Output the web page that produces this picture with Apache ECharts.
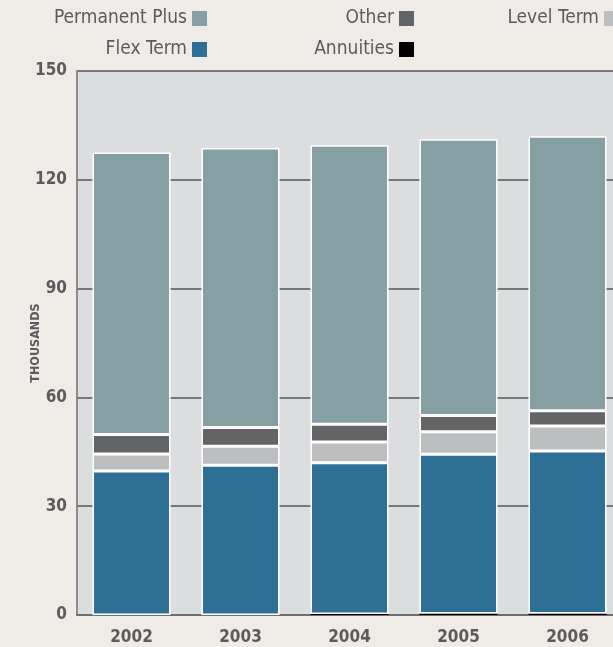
<!DOCTYPE html>
<html>
<head>
<meta charset="utf-8">
<script src="https://cdn.jsdelivr.net/npm/echarts@6/dist/echarts.min.js"></script>
<style>
  html, body { margin: 0; padding: 0; background: #efece8; }
  #chart { width: 613px; height: 647px; }
</style>
</head>
<body>
<div id="chart"></div>
<script>
// values in thousands
const years = ['2002', '2003', '2004', '2005', '2006'];
const annuities = [0, 0, 0.3, 0.4, 0.4];
const flexTerm = [39.7, 41.3, 41.7, 43.9, 44.8];
const levelTerm = [4.7, 5.2, 5.7, 6.2, 6.9];
const other = [5.4, 5.2, 4.9, 4.5, 4.2];
const permanentPlus = [77.7, 77.1, 76.9, 76.2, 75.7];

const FONT = "'DejaVu Sans Condensed', 'Liberation Sans Narrow', sans-serif";
const TXT = '#5b5b5d';

const chart = echarts.init(document.getElementById('chart'));

function legendAt(name, right, top) {
  return {
    data: [name],
    right: right,
    top: top,
    padding: 0,
    align: 'right',
    icon: 'rect',
    itemWidth: 15,
    itemHeight: 15,
    selectedMode: false,
    itemStyle: { borderWidth: 0 },
    textStyle: { color: TXT, fontFamily: FONT, fontSize: 19, lineHeight: 16 }
  };
}

function seg(name, data, color, border) {
  return {
    name: name,
    type: 'bar',
    stack: 'total',
    data: data,
    barCategoryGap: '28.4%',
    itemStyle: { color: color, borderColor: '#ffffff', borderWidth: border }
  };
}

const option = {
  backgroundColor: '#efece8',
  animation: false,
  legend: [
    legendAt('Permanent Plus', 406, 9),
    legendAt('Other', 199, 9),
    legendAt('Level Term', -6, 9),
    legendAt('Flex Term', 406, 40),
    legendAt('Annuities', 199, 40)
  ],
  grid: {
    left: 77,
    top: 71,
    right: -9,
    bottom: 32,
    outerBoundsMode: 'none',
    containLabel: false,
    show: true,
    backgroundColor: '#dcdddf',
    borderColor: '#6d6e70',
    borderWidth: 1.5
  },
  xAxis: {
    type: 'category',
    data: years,
    axisTick: { show: false },
    axisLine: { lineStyle: { color: '#6d6e70', width: 2 } },
    axisLabel: { color: TXT, fontFamily: FONT, fontWeight: 'bold', fontSize: 17, margin: 14 }
  },
  yAxis: {
    type: 'value',
    min: 0,
    max: 150,
    interval: 30,
    name: 'THOUSANDS',
    nameLocation: 'middle',
    nameRotate: 90,
    nameGap: 35,
    nameMoveOverlap: false,
    nameTextStyle: { color: TXT, fontFamily: FONT, fontWeight: 'bold', fontSize: 12.5 },
    axisLine: { show: false },
    axisTick: { show: false },
    axisLabel: { color: TXT, fontFamily: FONT, fontWeight: 'bold', fontSize: 17, margin: 10 },
    splitLine: { lineStyle: { color: '#77787a', width: 2 } }
  },
  series: [
    seg('Annuities', annuities, '#000000', 0),
    seg('Flex Term', flexTerm, '#2e7095', 1.5),
    seg('Level Term', levelTerm, '#bdbec0', 1.5),
    seg('Other', other, '#636466', 1.5),
    seg('Permanent Plus', permanentPlus, '#869fa5', 1.5)
  ]
};

chart.setOption(option);
</script>
</body>
</html>
